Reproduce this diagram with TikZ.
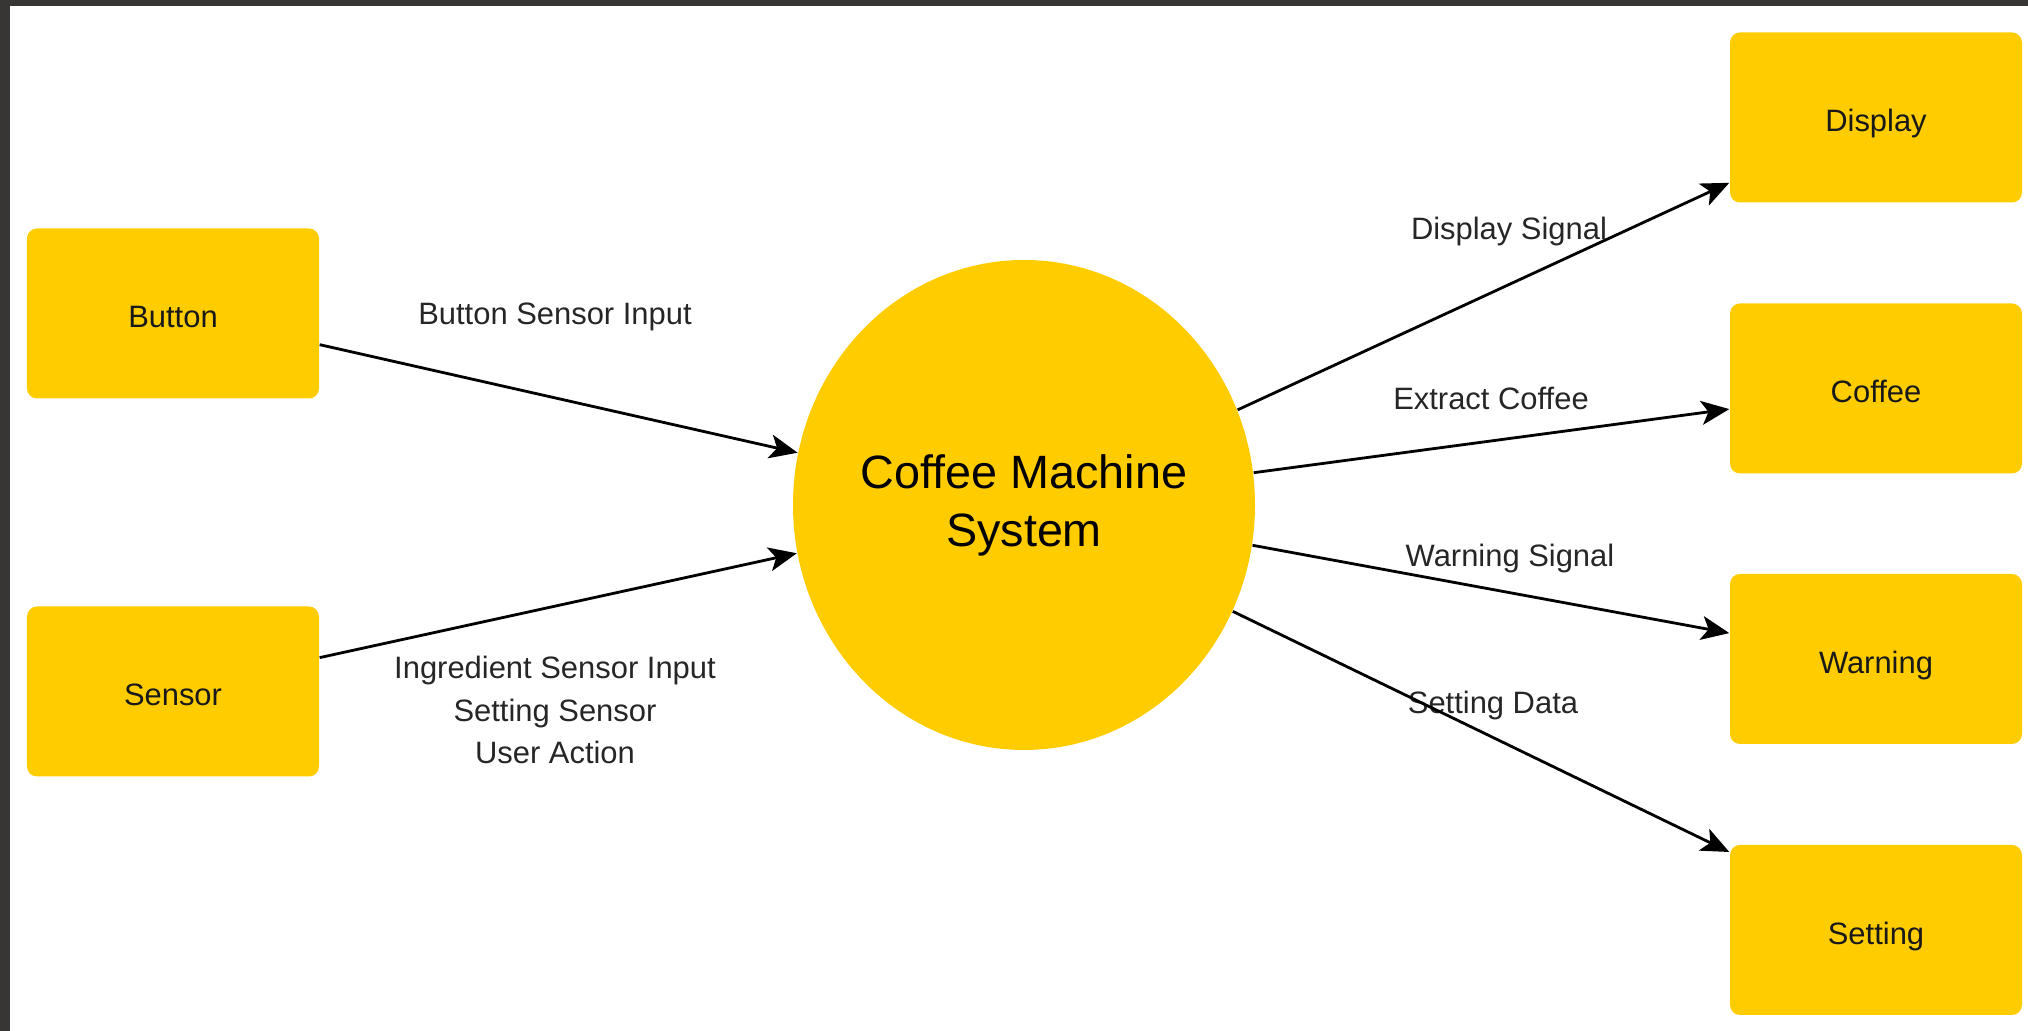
\documentclass[tikz,border=0pt]{standalone}
\usepackage{fontspec}
\setmainfont{Liberation Sans}
\usetikzlibrary{arrows.meta,shapes.geometric}
\definecolor{boxyellow}{HTML}{FFCC00}
\definecolor{framegray}{HTML}{383634}
\begin{document}
\begin{tikzpicture}[
    entity/.style={fill=boxyellow,rounded corners=0.1cm,minimum width=2.92cm,minimum height=1.7cm,inner sep=0pt,text height=0.8em,text depth=0pt,font=\fontsize{8.8}{10}\selectfont,text=black!90},
    process/.style={ellipse,fill=boxyellow,minimum width=4.62cm,minimum height=4.9cm,inner sep=0pt,align=center,font=\fontsize{13.3}{16.5}\selectfont},
    flowlabel/.style={align=center,font=\fontsize{8.8}{12}\selectfont,text=black!85,inner sep=0pt},
    flow/.style={-{Stealth[length=0.28cm,width=0.24cm,inset=0.07cm]},line width=0.8pt}
]
\useasboundingbox (0,0) rectangle (20.28,10.31);
\fill[framegray] (0,10.25) rectangle (20.28,10.31);
\fill[framegray] (0,0) rectangle (0.10,10.31);

\node[entity] (button) at (1.73,7.175) {Button};
\node[entity] (sensor) at (1.73,3.395) {Sensor};
\node[process] (cms) at (10.24,5.26) {Coffee Machine\\System};
\node[entity] (display) at (18.76,9.135) {Display};
\node[entity] (coffee) at (18.76,6.425) {Coffee};
\node[entity] (warning) at (18.76,3.72) {Warning};
\node[entity] (setting) at (18.76,1.01) {Setting};

\node[flowlabel] (lbutton) at (5.55,7.14) {Button Sensor Input};
\node[flowlabel] (lsensor) at (5.55,3.21) {Ingredient Sensor Input\\Setting Sensor\\User Action};
\node[flowlabel] (ldisplay) at (15.09,7.99) {Display Signal};
\node[flowlabel] (lcoffee) at (14.91,6.33) {Extract Coffee};
\node[flowlabel] (lwarning) at (15.10,4.72) {Warning Signal};
\node[flowlabel] (lsetting) at (14.93,3.25) {Setting Data};

\draw[flow] (button.-12) -- (cms.167);
\draw[flow] (sensor.13) -- (cms.192);
\draw[flow] (cms.24) -- (display.204.5);
\draw[flow] (cms.8) -- (coffee.188.7);
\draw[flow] (cms.-10) -- (warning.170.3);
\draw[flow] (cms.-27) -- (setting.152.5);
\end{tikzpicture}
\end{document}
